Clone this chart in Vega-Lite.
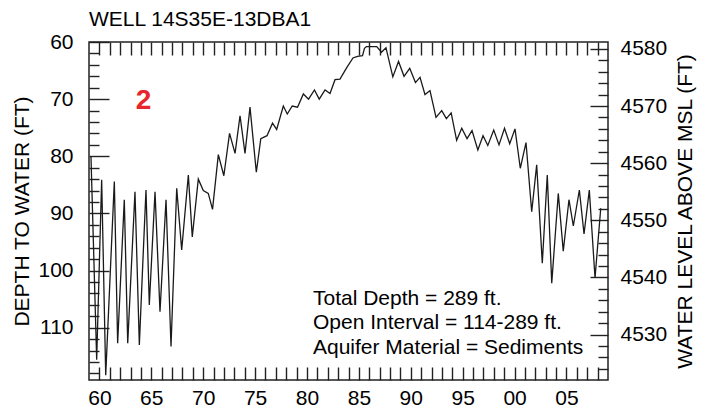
{
  "$schema": "https://vega.github.io/schema/vega-lite/v6.json",
  "width": 519,
  "height": 338,
  "autosize": {"type": "none"},
  "padding": {"left": 89, "top": 42, "right": 105, "bottom": 29},
  "background": "white",
  "title": {"text": "WELL 14S35E-13DBA1", "anchor": "start", "frame": "group", "font": "Liberation Sans", "fontSize": 21, "fontWeight": "normal", "color": "#000", "offset": 1},
  "config": {
    "view": {"stroke": "#222", "strokeWidth": 1.5},
    "axis": {"domain": false, "grid": false, "labelFont": "Liberation Sans", "labelFontSize": 21, "labelColor": "#000", "tickColor": "#222", "tickWidth": 1.4, "titleFont": "Liberation Sans", "titleFontSize": 21, "titleFontWeight": "normal", "titleColor": "#000"}
  },
  "data": {"values": [
    {"t": 1959.19, "d": 80.0}, {"t": 1959.74, "d": 115.6}, {"t": 1960.22, "d": 84.1}, {"t": 1960.61, "d": 118.3},
    {"t": 1961.44, "d": 84.4}, {"t": 1961.76, "d": 112.7}, {"t": 1962.40, "d": 87.6}, {"t": 1962.73, "d": 112.7},
    {"t": 1963.43, "d": 86.2}, {"t": 1963.85, "d": 113.0}, {"t": 1964.20, "d": 98.0}, {"t": 1964.49, "d": 85.9},
    {"t": 1964.81, "d": 106.0}, {"t": 1965.36, "d": 86.2}, {"t": 1965.84, "d": 107.2}, {"t": 1966.42, "d": 87.6},
    {"t": 1966.90, "d": 113.3}, {"t": 1967.45, "d": 85.6}, {"t": 1967.93, "d": 96.4}, {"t": 1968.57, "d": 83.3},
    {"t": 1968.95, "d": 94.1}, {"t": 1969.53, "d": 84.0}, {"t": 1970.01, "d": 86.0}, {"t": 1970.49, "d": 86.5},
    {"t": 1970.90, "d": 89.3}, {"t": 1971.46, "d": 79.7}, {"t": 1971.99, "d": 83.4}, {"t": 1972.54, "d": 76.0},
    {"t": 1973.07, "d": 79.5}, {"t": 1973.55, "d": 72.9}, {"t": 1974.03, "d": 79.5}, {"t": 1974.51, "d": 71.4},
    {"t": 1975.12, "d": 82.8}, {"t": 1975.55, "d": 76.9}, {"t": 1976.15, "d": 76.4}, {"t": 1976.68, "d": 74.2},
    {"t": 1977.08, "d": 75.3}, {"t": 1977.72, "d": 71.2}, {"t": 1978.10, "d": 72.6}, {"t": 1978.58, "d": 71.2},
    {"t": 1979.09, "d": 71.4}, {"t": 1979.65, "d": 69.1}, {"t": 1980.15, "d": 70.0}, {"t": 1980.72, "d": 68.4},
    {"t": 1981.18, "d": 70.0}, {"t": 1981.74, "d": 68.4}, {"t": 1982.22, "d": 69.0}, {"t": 1982.70, "d": 66.6},
    {"t": 1983.18, "d": 66.5}, {"t": 1983.83, "d": 64.5}, {"t": 1984.43, "d": 62.8}, {"t": 1984.87, "d": 62.5},
    {"t": 1985.35, "d": 62.4}, {"t": 1985.54, "d": 61.1}, {"t": 1985.73, "d": 60.8}, {"t": 1986.72, "d": 60.8},
    {"t": 1987.18, "d": 61.8}, {"t": 1987.61, "d": 61.0}, {"t": 1988.27, "d": 66.1}, {"t": 1988.82, "d": 63.4},
    {"t": 1989.35, "d": 66.0}, {"t": 1989.90, "d": 64.6}, {"t": 1990.45, "d": 67.1}, {"t": 1990.89, "d": 66.2},
    {"t": 1991.37, "d": 69.2}, {"t": 1991.85, "d": 68.5}, {"t": 1992.43, "d": 73.2}, {"t": 1992.98, "d": 72.0},
    {"t": 1993.43, "d": 73.4}, {"t": 1993.89, "d": 72.4}, {"t": 1994.42, "d": 77.2}, {"t": 1994.91, "d": 75.1},
    {"t": 1995.42, "d": 76.9}, {"t": 1995.90, "d": 75.5}, {"t": 1996.46, "d": 78.9}, {"t": 1996.96, "d": 76.4},
    {"t": 1997.42, "d": 78.1}, {"t": 1997.99, "d": 75.4}, {"t": 1998.50, "d": 78.0}, {"t": 1999.03, "d": 75.1},
    {"t": 1999.53, "d": 77.8}, {"t": 2000.04, "d": 75.2}, {"t": 2000.55, "d": 82.1}, {"t": 2001.10, "d": 77.6},
    {"t": 2001.65, "d": 89.7}, {"t": 2002.13, "d": 81.5}, {"t": 2002.67, "d": 98.7}, {"t": 2003.15, "d": 83.3},
    {"t": 2003.58, "d": 102.2}, {"t": 2004.21, "d": 86.5}, {"t": 2004.69, "d": 96.6}, {"t": 2005.24, "d": 87.6},
    {"t": 2005.66, "d": 92.2}, {"t": 2006.24, "d": 85.9}, {"t": 2006.69, "d": 93.6}, {"t": 2007.20, "d": 85.9},
    {"t": 2007.75, "d": 101.3}, {"t": 2008.30, "d": 89.1}
  ]},
  "resolve": {"scale": {"x": "independent", "y": "independent"}, "axis": {"x": "independent", "y": "independent"}},
  "layer": [
    {
      "mark": {"type": "line", "color": "#1a1a1a", "strokeWidth": 1.3},
      "encoding": {
        "x": {"field": "t", "type": "quantitative", "scale": {"domain": [1959, 2009], "nice": false, "zero": false},
              "axis": {"orient": "bottom", "values": [1960, 1965, 1970, 1975, 1980, 1985, 1990, 1995, 2000, 2005], "ticks": false, "labelPadding": 7, "labelExpr": "slice(toString(datum.value), 2)", "title": null}},
        "y": {"field": "d", "type": "quantitative", "scale": {"domain": [60, 119.15], "reverse": true, "nice": false, "zero": false},
              "axis": {"orient": "left", "values": [60, 70, 80, 90, 100, 110], "ticks": false, "labelPadding": 16, "title": "DEPTH TO WATER (FT)", "titlePadding": 5}}
      }
    },
    {
      "data": {"values": [{}]},
      "mark": {"type": "point", "opacity": 0},
      "encoding": {
        "x": {"datum": 1980, "type": "quantitative", "scale": {"domain": [1959, 2009], "nice": false, "zero": false},
              "axis": {"orient": "bottom", "values": [1960,1961,1962,1963,1964,1965,1966,1967,1968,1969,1970,1971,1972,1973,1974,1975,1976,1977,1978,1979,1980,1981,1982,1983,1984,1985,1986,1987,1988,1989,1990,1991,1992,1993,1994,1995,1996,1997,1998,1999,2000,2001,2002,2003,2004,2005,2006,2007,2008], "labels": false, "tickSize": -13, "title": null}},
        "y": {"datum": 90, "type": "quantitative", "scale": {"domain": [60, 119.15], "reverse": true, "nice": false, "zero": false},
              "axis": {"orient": "left", "values": [60, 70, 80, 90, 100, 110], "labels": false, "tickSize": -20, "title": null}}
      }
    },
    {
      "data": {"values": [{}]},
      "mark": {"type": "point", "opacity": 0},
      "encoding": {
        "x": {"datum": 1980, "type": "quantitative", "scale": {"domain": [1959, 2009], "nice": false, "zero": false},
              "axis": {"orient": "top", "values": [1960,1961,1962,1963,1964,1965,1966,1967,1968,1969,1970,1971,1972,1973,1974,1975,1976,1977,1978,1979,1980,1981,1982,1983,1984,1985,1986,1987,1988,1989,1990,1991,1992,1993,1994,1995,1996,1997,1998,1999,2000,2001,2002,2003,2004,2005,2006,2007,2008], "labels": false, "tickSize": -13, "title": null}},
        "y": {"datum": 90, "type": "quantitative", "scale": {"domain": [60, 119.15], "reverse": true, "nice": false, "zero": false},
              "axis": {"orient": "left", "values": [62,64,66,68,72,74,76,78,82,84,86,88,92,94,96,98,102,104,106,108,112,114,116,118], "labels": false, "tickSize": -10, "title": null}}
      }
    },
    {
      "data": {"values": [{}]},
      "mark": {"type": "point", "opacity": 0},
      "encoding": {
        "y": {"datum": 4550, "type": "quantitative", "scale": {"domain": [4522.05, 4581.2], "nice": false, "zero": false},
              "axis": {"orient": "right", "values": [4530, 4540, 4550, 4560, 4570, 4580], "format": "d", "ticks": false, "labelPadding": 12, "title": "WATER LEVEL ABOVE MSL (FT)", "titleAngle": 270, "titleBaseline": "top", "titlePadding": 8}}
      }
    },
    {
      "data": {"values": [{}]},
      "mark": {"type": "point", "opacity": 0},
      "encoding": {
        "y": {"datum": 4550, "type": "quantitative", "scale": {"domain": [4522.05, 4581.2], "nice": false, "zero": false},
              "axis": {"orient": "right", "values": [4530, 4540, 4550, 4560, 4570, 4580], "labels": false, "tickSize": -18, "title": null}}
      }
    },
    {
      "data": {"values": [{}]},
      "mark": {"type": "point", "opacity": 0},
      "encoding": {
        "y": {"datum": 4550, "type": "quantitative", "scale": {"domain": [4522.05, 4581.2], "nice": false, "zero": false},
              "axis": {"orient": "right", "values": [4524,4526,4528,4532,4534,4536,4538,4542,4544,4546,4548,4552,4554,4556,4558,4562,4564,4566,4568,4572,4574,4576,4578], "labels": false, "tickSize": -10, "title": null}}
      }
    },
    {
      "data": {"values": [{}]},
      "mark": {"type": "text", "font": "Liberation Sans", "fontSize": 28, "fontWeight": "bold", "color": "#e8262b", "align": "center", "baseline": "alphabetic"},
      "encoding": {
        "x": {"datum": 1964.25, "type": "quantitative", "scale": {"domain": [1959, 2009], "nice": false, "zero": false}, "axis": null},
        "y": {"datum": 71.72, "type": "quantitative", "scale": {"domain": [60, 119.15], "reverse": true, "nice": false, "zero": false}, "axis": null},
        "text": {"value": "2"}
      }
    },
    {
      "data": {"values": [{}]},
      "mark": {"type": "text", "font": "Liberation Sans", "fontSize": 21, "color": "#000", "align": "left", "baseline": "alphabetic"},
      "encoding": {
        "x": {"datum": 1980.58, "type": "quantitative", "scale": {"domain": [1959, 2009], "nice": false, "zero": false}, "axis": null},
        "y": {"datum": 106.02, "type": "quantitative", "scale": {"domain": [60, 119.15], "reverse": true, "nice": false, "zero": false}, "axis": null},
        "text": {"value": "Total Depth = 289 ft."}
      }
    },
    {
      "data": {"values": [{}]},
      "mark": {"type": "text", "font": "Liberation Sans", "fontSize": 21, "color": "#000", "align": "left", "baseline": "alphabetic"},
      "encoding": {
        "x": {"datum": 1980.58, "type": "quantitative", "scale": {"domain": [1959, 2009], "nice": false, "zero": false}, "axis": null},
        "y": {"datum": 110.31, "type": "quantitative", "scale": {"domain": [60, 119.15], "reverse": true, "nice": false, "zero": false}, "axis": null},
        "text": {"value": "Open Interval = 114-289 ft."}
      }
    },
    {
      "data": {"values": [{}]},
      "mark": {"type": "text", "font": "Liberation Sans", "fontSize": 21, "color": "#000", "align": "left", "baseline": "alphabetic"},
      "encoding": {
        "x": {"datum": 1980.58, "type": "quantitative", "scale": {"domain": [1959, 2009], "nice": false, "zero": false}, "axis": null},
        "y": {"datum": 114.6, "type": "quantitative", "scale": {"domain": [60, 119.15], "reverse": true, "nice": false, "zero": false}, "axis": null},
        "text": {"value": "Aquifer Material = Sediments"}
      }
    }
  ]
}
